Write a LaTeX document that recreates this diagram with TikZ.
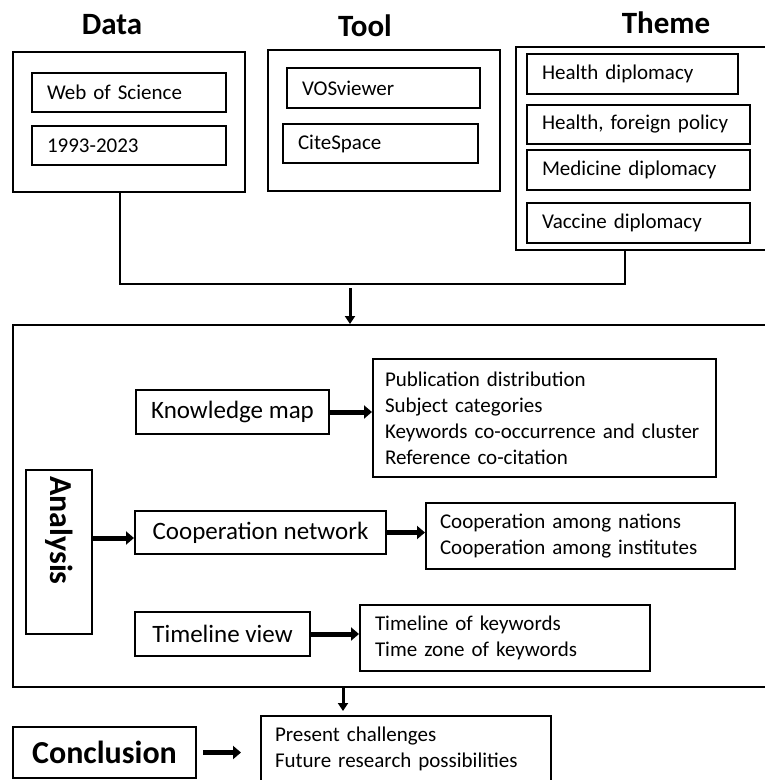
\documentclass[tikz,border=0pt]{standalone}
\usepackage{fontspec}
\setmainfont{Carlito}
\usetikzlibrary{arrows.meta}

\begin{document}
\begin{tikzpicture}[
  x=1pt, y=-1pt,
  title/.style={font=\fontsize{31}{36}\selectfont\bfseries, anchor=base},
  frame/.style={draw, line width=2pt, inner sep=0pt},
  item/.style={draw, line width=2pt, inner sep=0pt, inner xsep=15pt, align=left, font=\fontsize{21}{26}\selectfont},
  stage/.style={draw, line width=2pt, inner sep=0pt, align=center, font=\fontsize{25}{30}\selectfont},
  arr/.style={-{Triangle[length=8pt,width=13pt]}, line width=5pt},
  thinarr/.style={-{Triangle[length=8pt,width=10pt]}, line width=3pt},
  link/.style={line width=2.5pt}
]
\useasboundingbox (0,0) rectangle (764,780);

% inputs
\node[title] (datatitle) at (112,34) {Data};
\node[title] (tooltitle) at (365,36) {Tool};
\node[title] (themetitle) at (666,33) {Theme};

\node[frame, minimum width=232pt, minimum height=140pt] (data) at (129,122) {};
\node[item, text width=164pt, minimum height=39pt] (wos) at (129,92.5) {Web of Science};
\node[item, text width=164pt, minimum height=39pt] (years) at (129,145.5) {1993-2023};

\node[frame, minimum width=232pt, minimum height=141pt] (tool) at (384,120.5) {};
\node[item, text width=163pt, minimum height=40pt] (vos) at (383.5,88) {VOSviewer};
\node[item, text width=165pt, minimum height=39pt] (cite) at (380.5,143.5) {CiteSpace};

\node[frame, minimum width=256pt, minimum height=203pt] (theme) at (644,148.5) {};
\node[item, text width=181pt, minimum height=40pt] (hd) at (632.5,74) {Health diplomacy};
\node[item, text width=193pt, minimum height=39pt] (hfp) at (638.5,124.5) {Health, foreign policy};
\node[item, text width=193pt, minimum height=40pt] (md) at (638.5,170) {Medicine diplomacy};
\node[item, text width=193pt, minimum height=40pt] (vd) at (638.5,223) {Vaccine diplomacy};

\coordinate (bus) at (625,284);
\coordinate (merge) at (350,288);
\draw[link] (data.south -| 120,0) |- (bus) -- (bus |- theme.south);

% analysis
\node[frame, minimum width=760pt, minimum height=362pt] (frame) at (393,506) {};
\draw[thinarr] (merge) -- (merge |- frame.north);

\node[frame, rotate=-90, minimum width=164pt, minimum height=66pt, text width=152pt, inner xsep=6pt, align=left,
  font=\fontsize{32}{36}\selectfont\bfseries] (anl) at (59,552) {Analysis};

\node[stage, minimum width=193pt, minimum height=44pt] (km) at (232.5,412) {Knowledge map};
\node[item, text width=319pt, inner xsep=12pt, minimum height=118pt] (kmlist) at (544.5,418)
  {Publication distribution\\Subject categories\\Keywords co-occurrence and cluster\\Reference co-citation};

\node[stage, minimum width=251pt, minimum height=43pt] (coop) at (260.5,532.5) {Cooperation network};
\node[item, text width=281pt, inner xsep=14pt, minimum height=66pt] (cooplist) at (580.5,536)
  {Cooperation among nations\\Cooperation among institutes};

\node[stage, minimum width=175pt, minimum height=44pt] (tv) at (222.5,634) {Timeline view};
\node[item, text width=260pt, minimum height=66pt] (tvlist) at (505,638)
  {Timeline of keywords\\Time zone of keywords};

\draw[arr] (km.east) -- (km.east -| kmlist.west);
\draw[arr] (anl.north |- 0,538) -- (coop.west |- 0,538);
\draw[arr] (coop.east) -- (coop.east -| cooplist.west);
\draw[arr] (tv.east) -- (tv.east -| tvlist.west);

% conclusion
\node[stage, minimum width=183pt, minimum height=51pt, font=\fontsize{32}{36}\selectfont\bfseries] (concl) at (104.5,752.5) {Conclusion};
\node[item, text width=262pt, inner xsep=14pt, minimum height=65pt] (plist) at (406,748.5)
  {Present challenges\\Future research possibilities};

\draw[thinarr, shorten >=4pt] (frame.south -| 343,0) -- (plist.north -| 343,0);
\draw[arr, shorten <=6pt, shorten >=19pt] (concl.east) -- (concl.east -| plist.west);

\end{tikzpicture}
\end{document}
